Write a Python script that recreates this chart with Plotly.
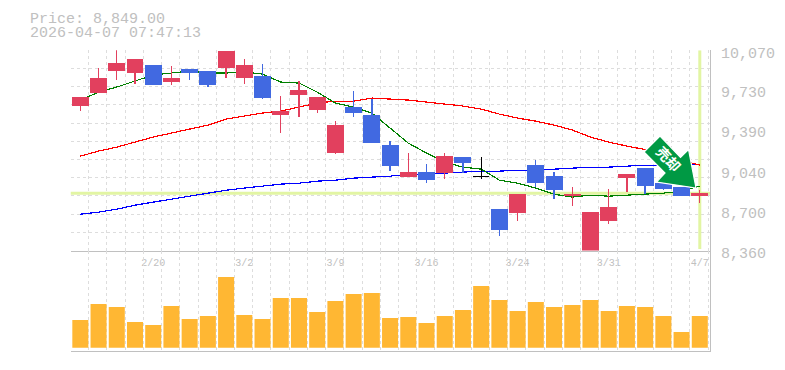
import plotly.graph_objects as go

WIDTH, HEIGHT = 785, 370
dates = ["2/16","2/17","2/18","2/19","2/20","2/24","2/25","2/26","2/27","3/2","3/3","3/4","3/5","3/6","3/9","3/10","3/11","3/12","3/13","3/16","3/17","3/18","3/19","3/23","3/24","3/25","3/26","3/27","3/30","3/31","4/1","4/2","4/3","4/6","4/7"]
shown_dates = ["2/20","3/2","3/9","3/16","3/24","3/31","4/7"]
opens  = [9602,9713,9902,9884,9936,9808,9902,9884,9927,9842,9842,9525,9696,9568,9200,9577,9508,9252,8995,9021,9029,9149,8995,8705,8687,9089,8995,8833,8354,8619,8987,9055,8927,8901,8833]
highs  = [9662,9919,10070,9987,9936,9936,9910,9884,10064,9996,9953,9679,9808,9662,9465,9722,9654,9294,9192,9098,9192,9149,9158,8713,8841,9132,9029,8901,8687,8884,9004,9055,8927,8901,8876]
lows   = [9551,9713,9816,9782,9773,9773,9816,9756,9833,9782,9654,9363,9500,9534,9183,9500,9286,9038,8995,8935,8970,9021,8970,8482,8611,8901,8799,8739,8354,8585,8859,8841,8876,8833,8764]
closes = [9662,9825,9953,9987,9782,9825,9884,9782,10055,9936,9671,9542,9722,9662,9423,9542,9286,9089,9021,8970,9158,9115,8995,8542,8841,8944,8884,8841,8687,8730,9004,8918,8893,8833,8849]
volumes = [277,437,407,257,227,417,287,317,707,327,287,497,497,357,467,537,547,297,307,247,317,377,617,477,367,457,407,427,477,367,417,407,317,157,317]
ma_short = [9645,9713,9756,9807,9859,9876,9893,9876,9876,9884,9867,9799,9790,9713,9619,9585,9534,9406,9277,9192,9115,9072,9055,8961,8935,8893,8841,8816,8833,8824,8833,8841,8850,8867,8910]
ma_mid = [9166,9209,9243,9286,9329,9363,9397,9431,9483,9508,9534,9551,9585,9619,9636,9636,9662,9654,9645,9628,9611,9594,9568,9525,9491,9465,9431,9389,9329,9286,9252,9222,9183,9132,9089]
ma_long = [8670,8687,8713,8747,8773,8799,8824,8850,8875,8893,8910,8927,8935,8952,8961,8978,8987,8995,9012,9012,9021,9029,9038,9038,9046,9046,9055,9064,9072,9072,9081,9089,9089,9094,9098]
price_ticks = [10070,9730,9390,9040,8700,8360]
price_tick_text = ["10,070","9,730","9,390","9,040","8,700","8,360"]
signal_label = "売却"
last_close = 8849
doji_index = 22
title_lines = ["Price: 8,849.00", "2026-04-07 07:47:13"]

RED, BLUE, GRID, AXIS, TEXT = "#e2405e", "#4169e1", "#dddddd", "#c0c0c0", "#c0c0c0"
HILITE, GREEN = "#e2f5a3", "#009944"
MONO = "Liberation Mono, DejaVu Sans Mono, monospace"

def px(x): return x / WIDTH
def py(y): return 1 - y / HEIGHT

L, R, T, M, B = 70.5, 710, 50.3, 250.5, 350.5
xdom = [px(L), px(R)]
xrange_ = [-0.54, 34.56]
n = len(dates)
idx = list(range(n))
normal = [i for i in idx if i != doji_index]

fig = go.Figure()
for vals, col in ((ma_long, "#0000ff"), (ma_mid, "#ff0000"), (ma_short, "#008000")):
    fig.add_trace(go.Scatter(x=idx, y=vals, mode="lines", line=dict(color=col, width=1.2), xaxis="x", yaxis="y", hoverinfo="skip"))

candle_style = dict(xaxis="x", yaxis="y3", whiskerwidth=0)
fig.add_trace(go.Candlestick(x=normal, open=[opens[i] for i in normal], high=[highs[i] for i in normal],
                             low=[lows[i] for i in normal], close=[closes[i] for i in normal],
                             increasing=dict(line=dict(color=RED, width=1.3), fillcolor=RED),
                             decreasing=dict(line=dict(color=BLUE, width=1.3), fillcolor=BLUE), **candle_style))
fig.add_trace(go.Candlestick(x=[doji_index], open=[opens[doji_index]], high=[highs[doji_index]],
                             low=[lows[doji_index]], close=[closes[doji_index]],
                             increasing=dict(line=dict(color="#000000", width=1.3), fillcolor="#000000"),
                             decreasing=dict(line=dict(color="#000000", width=1.3), fillcolor="#000000"), **candle_style))
fig.add_trace(go.Bar(x=idx, y=volumes, marker=dict(color="#ffb733", line=dict(width=0)), xaxis="x2", yaxis="y2", hoverinfo="skip"))

grid_common = dict(showgrid=True, gridcolor=GRID, gridwidth=1, griddash="3px,3px", zeroline=False, ticks="", automargin=False)
fig.update_layout(
    width=WIDTH, height=HEIGHT, margin=dict(l=0, r=0, t=0, b=0), autosize=False,
    paper_bgcolor="white", plot_bgcolor="white", showlegend=False, bargap=0.12, boxgap=0.14, boxgroupgap=0,
    xaxis=dict(domain=xdom, range=xrange_, anchor="y", tick0=xrange_[0], dtick=1, showticklabels=False,
               showline=True, linecolor=AXIS, linewidth=1, rangeslider=dict(visible=False), **grid_common),
    xaxis2=dict(domain=xdom, range=xrange_, anchor="y2", tick0=xrange_[0], dtick=1, showticklabels=False,
                showline=True, linecolor=AXIS, linewidth=1, **grid_common),
    xaxis3=dict(domain=xdom, range=xrange_, anchor="y", overlaying="x", side="bottom", showgrid=False, zeroline=False, automargin=False,
                tickmode="array", tickvals=[dates.index(d) for d in shown_dates], ticktext=shown_dates,
                tickfont=dict(family=MONO, size=10, color=TEXT), ticks="", ticklabelstandoff=4),
    yaxis=dict(domain=[py(M), py(T)], range=[8360, 10070], anchor="x", tick0=8360, dtick=(10070 - 8360) / 11,
               showticklabels=False, **grid_common),
    yaxis2=dict(domain=[py(B), py(M)], range=[-28, 972], anchor="x2", side="right", showgrid=False, zeroline=False, automargin=False,
                showticklabels=False, ticks="", showline=True, linecolor=AXIS, linewidth=1),
    yaxis3=dict(domain=[py(M), py(T)], range=[8360, 10070], anchor="x", overlaying="y", side="right", showgrid=False, automargin=False,
                zeroline=False, showline=True, linecolor=AXIS, linewidth=1, ticks="",
                tickmode="array", tickvals=price_ticks, ticktext=price_tick_text,
                tickfont=dict(family=MONO, size=15, color=TEXT), ticklabelshift=2, ticklabelstandoff=7),
)
# keep a trace on xaxis3 so the label axis is drawn
fig.add_trace(go.Scatter(x=[dates.index(shown_dates[0])], y=[last_close], mode="markers", marker=dict(opacity=0), xaxis="x3", yaxis="y", hoverinfo="skip"))

fig.add_shape(type="line", xref="x", yref="y", x0=xrange_[0], x1=xrange_[1], y0=last_close, y1=last_close,
              line=dict(color=HILITE, width=3), layer="between")
fig.add_shape(type="line", xref="x", yref="y", x0=n - 1, x1=n - 1, y0=8372, y1=10070,
              line=dict(color=HILITE, width=3), layer="between")

arrow = [(660, 136), (644, 152), (665, 173), (656.5, 182), (696, 188), (688.5, 149.5), (680.5, 157.5)]
path = "M " + " L ".join(f"{px(x):.5f},{py(y):.5f}" for x, y in arrow) + " Z"
fig.add_shape(type="path", xref="paper", yref="paper", path=path, fillcolor=GREEN, line=dict(color="white", width=1.2), layer="above")
fig.add_shape(type="rect", xref="paper", yref="paper", x0=px(660), x1=px(675), y0=py(152), y1=py(168),
              line=dict(width=0), fillcolor="rgba(0,0,0,0)", layer="above",
              label=dict(text=f"<b>{signal_label}</b>", textangle=47, textposition="middle center",
                         font=dict(family="Noto Sans CJK JP", size=14, color="white")))
for text, y in zip(title_lines, (19.5, 34)):
    fig.add_annotation(xref="paper", yref="paper", x=px(28), y=py(y), text=text, showarrow=False, xanchor="left", yanchor="middle",
                       font=dict(family=MONO, size=15, color=TEXT))

post = """document.body.style.margin='0';
var s=document.createElement('style');
s.textContent='.scatterlayer path,.boxlayer path{shape-rendering:crispEdges}';
document.head.appendChild(s);"""
fig.write_html("out.html", post_script=post, config=dict(displayModeBar=False))
